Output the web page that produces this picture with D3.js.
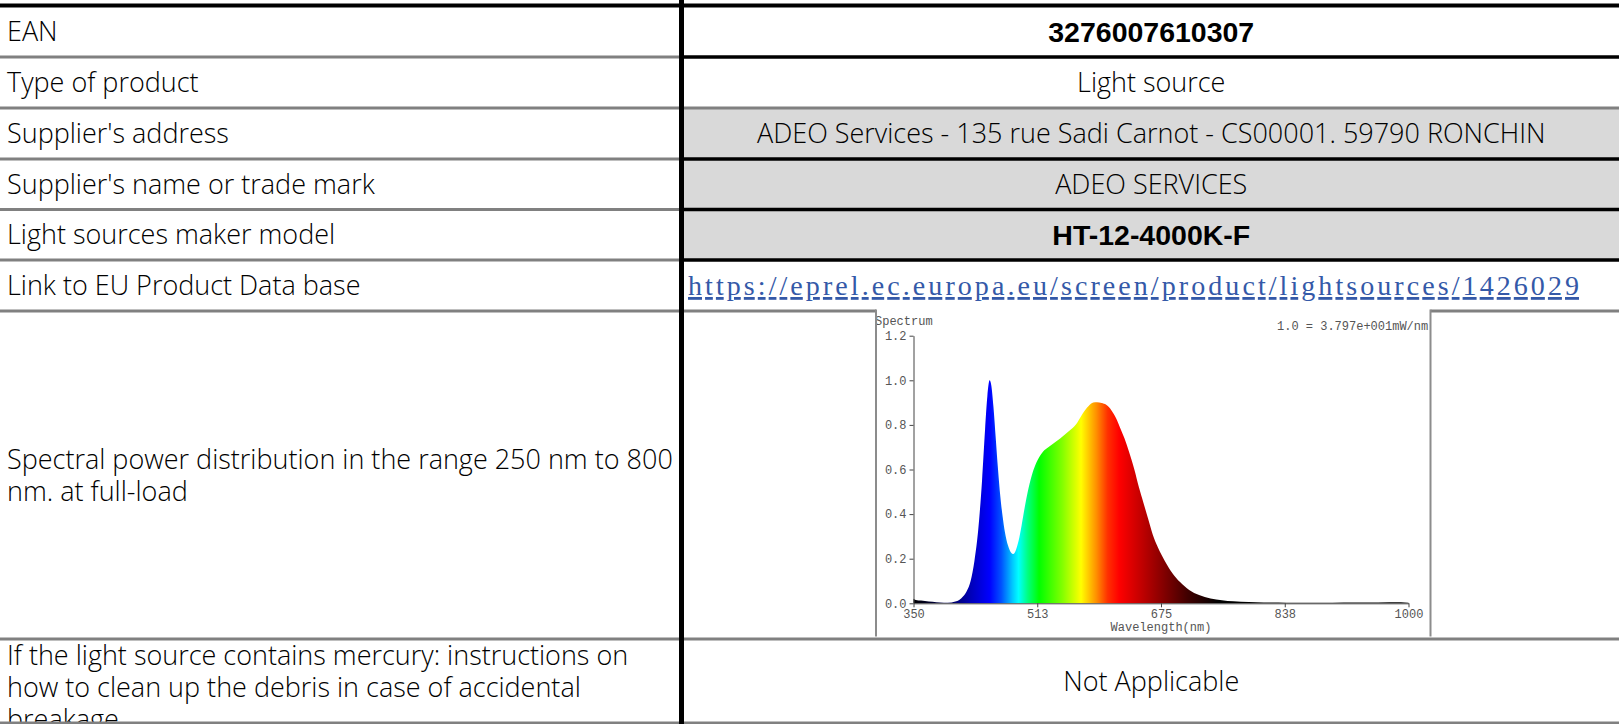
<!DOCTYPE html>
<html>
<head>
<meta charset="utf-8">
<script src="https://cdn.jsdelivr.net/npm/d3@7"></script>
<style>
  body { margin: 0; background: #fff; overflow: hidden; }
</style>
</head>
<body>
<script>
'use strict';

// ---- table content ----
const rowLabels = [
    ["EAN"],
    ["Type of product"],
    ["Supplier's address"],
    ["Supplier's name or trade mark"],
    ["Light sources maker model"],
    ["Link to EU Product Data base"],
    ["Spectral power distribution in the range 250 nm to 800", "nm. at full-load"],
    ["If the light source contains mercury: instructions on", "how to clean up the debris in case of accidental", "breakage"]
]
const rowValues = [
    "3276007610307",
    "Light source",
    "ADEO Services - 135 rue Sadi Carnot - CS00001. 59790 RONCHIN",
    "ADEO SERVICES",
    "HT-12-4000K-F",
    "https://eprel.ec.europa.eu/screen/product/lightsources/1426029",
    "",
    "Not Applicable"
]
const boldRows = [0, 4]
const shadedRows = [2, 3, 4]

// ---- spectrum ----
const wavelengths = [350, 353, 360, 370, 380, 390, 400, 405, 410, 415, 420, 425, 430, 435, 440, 444, 447, 450, 452, 455, 458, 461, 464, 467, 470, 474, 478, 481, 484, 488, 492, 496, 500, 505, 510, 515, 520, 527, 535, 543, 550, 557, 565, 572, 580, 586, 591, 597, 603, 610, 616, 621, 627, 633, 640, 646, 652, 658, 664, 671, 680, 690, 700, 712, 725, 740, 755, 770, 790, 810, 840, 870, 900, 930, 960, 990, 1000]
const intensity = [0.02, 0.015, 0.012, 0.008, 0.005, 0.003, 0.004, 0.008, 0.015, 0.03, 0.055, 0.1, 0.19, 0.33, 0.55, 0.78, 0.93, 1.0, 0.98, 0.88, 0.74, 0.6, 0.48, 0.39, 0.32, 0.26, 0.228, 0.221, 0.235, 0.28, 0.35, 0.43, 0.5, 0.57, 0.62, 0.655, 0.68, 0.7, 0.72, 0.74, 0.76, 0.78, 0.81, 0.85, 0.885, 0.9, 0.902, 0.898, 0.89, 0.865, 0.83, 0.79, 0.74, 0.68, 0.6, 0.52, 0.45, 0.38, 0.31, 0.25, 0.19, 0.135, 0.095, 0.06, 0.037, 0.022, 0.014, 0.009, 0.006, 0.004, 0.003, 0.003, 0.003, 0.004, 0.004, 0.005, 0.003]

const yTicks = [0, 0.2, 0.4, 0.6, 0.8, 1.0, 1.2]
const xTicks = [350, 512.5, 675, 837.5, 1000]
const xTickLabels = ["350", "513", "675", "838", "1000"]
const chartTitle = "Spectrum"
const chartNote = "1.0 = 3.797e+001mW/nm"
const chartXLabel = "Wavelength(nm)"

// colour of the fill along the wavelength axis
const gradientNm = [350, 400, 425, 450, 465, 480, 488, 500, 515, 545, 570, 590, 605, 620, 650, 680, 710, 750, 1000]
const gradientColors = ["#000000", "#000060", "#0000b8", "#0000ff", "#0050ff", "#00c8ff", "#00ffff", "#00ff80", "#00ff00", "#80ff00", "#ffff00", "#ff9000", "#ff3000", "#ff0000", "#c00000", "#800000", "#400000", "#000000", "#000000"]

// ---- layout ----
const W = 1619, H = 724
const divX = 681.5
const rowEdges = [5.5, 57, 108, 159, 209.5, 260, 311, 639, 723]
const rightLineBlack = [true, true, false, true, true, true, false, false, false]
const textFont = "'Open Sans', 'Noto Sans', sans-serif"
const textWeight = 300
const boldFont = "'Liberation Sans', Arial, sans-serif"
const monoFont = "'Liberation Mono', 'DejaVu Sans Mono', monospace"

const svg = d3.select("body").append("svg")
    .attr("width", W)
    .attr("height", H)

function fitFont(sample, family, weight, target) {
    let t = svg.append("text")
        .attr("font-family", family)
        .attr("font-weight", weight)
        .attr("font-size", 100)
        .text(sample)
    let w = t.node().getComputedTextLength()
    t.remove()
    return 100 * target / w
}

const fs = fitFont(rowLabels[6][0], textFont, textWeight, 666)
const bfs = fitFont(rowValues[0], boldFont, 700, 206)

// shaded cells
svg.selectAll(".shade")
    .data(shadedRows)
    .enter()
    .append("rect")
    .attr("x", divX)
    .attr("y", d => rowEdges[d])
    .attr("width", W - divX)
    .attr("height", d => rowEdges[d + 1] - rowEdges[d])
    .attr("fill", "#d9d9d9")

// left column text, one text element per cell with tspans
rowLabels.forEach(function (lines, i) {
    let top = rowEdges[i], bot = rowEdges[i + 1]
    let lh = 32
    let first
    if (i === rowLabels.length - 1) {
        first = top + 16
    } else {
        first = (top + bot) / 2 - (lines.length - 1) * lh / 2
    }
    let t = svg.append("text")
        .attr("font-family", textFont)
        .attr("font-weight", textWeight)
        .attr("font-size", fs)
        .attr("fill", "#000")
    lines.forEach(function (l, j) {
        t.append("tspan")
            .attr("x", 7)
            .attr("y", first + j * lh + fs * 0.36)
            .text(l)
    })
})

// right column text
const midRight = (divX + W) / 2 + 1
rowValues.forEach(function (v, i) {
    if (!v) return
    let cy = (rowEdges[i] + rowEdges[i + 1]) / 2
    if (i === 5) {
        svg.append("text")
            .attr("x", 688)
            .attr("y", 295)
            .attr("font-family", "'Liberation Serif', 'DejaVu Serif', serif")
            .attr("font-size", 28)
            .attr("textLength", 891)
            .attr("lengthAdjust", "spacing")
            .attr("fill", "#3459a8")
            .style("text-decoration", "underline")
            .text(v)
        return
    }
    let bold = boldRows.includes(i)
    svg.append("text")
        .attr("x", midRight)
        .attr("y", (i === 7 ? 681.5 : cy) + (bold ? bfs : fs) * 0.36)
        .attr("text-anchor", "middle")
        .attr("font-family", bold ? boldFont : textFont)
        .attr("font-weight", bold ? 700 : textWeight)
        .attr("font-size", bold ? bfs : fs)
        .attr("fill", "#000")
        .text(v)
})

// ---- spectrum chart ----
const chart = svg.append("g").attr("id", "spectrum")

chart.append("rect")
    .attr("x", 876)
    .attr("y", 309.5)
    .attr("width", 555)
    .attr("height", 327)
    .attr("fill", "#fff")

const x = d3.scaleLinear().domain([350, 1000]).range([913.5, 1408.5])
const y = d3.scaleLinear().domain([0, 1.2]).range([603.3, 335.7])

let grad = svg.append("defs").append("linearGradient")
    .attr("id", "spec")
    .attr("gradientUnits", "userSpaceOnUse")
    .attr("x1", x(350)).attr("x2", x(1000))
    .attr("y1", 0).attr("y2", 0)
grad.selectAll("stop")
    .data(gradientNm)
    .enter()
    .append("stop")
    .attr("offset", d => (d - 350) / 650)
    .attr("stop-color", (d, i) => gradientColors[i])

let points = wavelengths.map((w, i) => ({ nm: w, v: intensity[i] }))

let area = d3.area()
    .x(d => x(d.nm))
    .y0(y(0))
    .y1(d => y(d.v))
    .curve(d3.curveMonotoneX)

chart.append("path")
    .datum(points)
    .attr("d", area)
    .attr("fill", "url(#spec)")

chart.append("g")
    .attr("transform", "translate(" + x(350) + ",0)")
    .call(d3.axisLeft(y).tickValues(yTicks).tickFormat(d3.format(".1f")).tickSize(4).tickSizeOuter(0).tickPadding(3))
chart.append("g")
    .attr("transform", "translate(0," + y(0) + ")")
    .call(d3.axisBottom(x).tickValues(xTicks).tickFormat((d, i) => xTickLabels[i]).tickSize(4).tickSizeOuter(0).tickPadding(2))

chart.selectAll(".domain, .tick line").attr("stroke", "#444")
chart.selectAll(".tick text")
    .attr("font-family", monoFont)
    .attr("font-size", 12)
    .attr("fill", "#555")

chart.append("text")
    .attr("x", 875)
    .attr("y", 325)
    .attr("font-family", monoFont)
    .attr("font-size", 12)
    .attr("fill", "#555")
    .text(chartTitle)

chart.append("clipPath").attr("id", "imgclip")
    .append("rect").attr("x", 876).attr("y", 309).attr("width", 554).attr("height", 330)
chart.append("text")
    .attr("clip-path", "url(#imgclip)")
    .attr("x", 1277)
    .attr("y", 330)
    .attr("font-family", monoFont)
    .attr("font-size", 12)
    .attr("fill", "#555")
    .text(chartNote)

chart.append("text")
    .attr("x", x(675))
    .attr("y", 631)
    .attr("text-anchor", "middle")
    .attr("font-family", monoFont)
    .attr("font-size", 12)
    .attr("fill", "#555")
    .text(chartXLabel)

// image frame edges
chart.selectAll(".edge")
    .data([876, 1430.5])
    .enter()
    .append("line")
    .attr("x1", d => d).attr("x2", d => d)
    .attr("y1", 309.5).attr("y2", 636.5)
    .attr("stroke", "#8c8c8c")
    .attr("stroke-width", 2)

// ---- grid lines ----
rowEdges.forEach(function (e, i) {
    let isTop = i === 0
    if (i !== 6) {
        svg.append("line")
            .attr("x1", 0).attr("x2", divX)
            .attr("y1", e).attr("y2", e)
            .attr("stroke", isTop ? "#000" : "#808080")
            .attr("stroke-width", isTop ? 4 : 3)
        svg.append("line")
            .attr("x1", divX).attr("x2", W)
            .attr("y1", e).attr("y2", e)
            .attr("stroke", rightLineBlack[i] ? "#000" : "#808080")
            .attr("stroke-width", isTop ? 4 : (rightLineBlack[i] ? 3.5 : 3))
    } else {
        // the chart picture sits on top of this line
        svg.insert("g", "#spectrum").selectAll("line")
            .data([[0, 876], [1430, W]])
            .enter()
            .append("line")
            .attr("x1", d => d[0]).attr("x2", d => d[1])
            .attr("y1", e).attr("y2", e)
            .attr("stroke", "#808080")
            .attr("stroke-width", 3)
    }
})

svg.append("line")
    .attr("x1", divX).attr("x2", divX)
    .attr("y1", 0).attr("y2", H)
    .attr("stroke", "#000")
    .attr("stroke-width", 5)
</script>
</body>
</html>
